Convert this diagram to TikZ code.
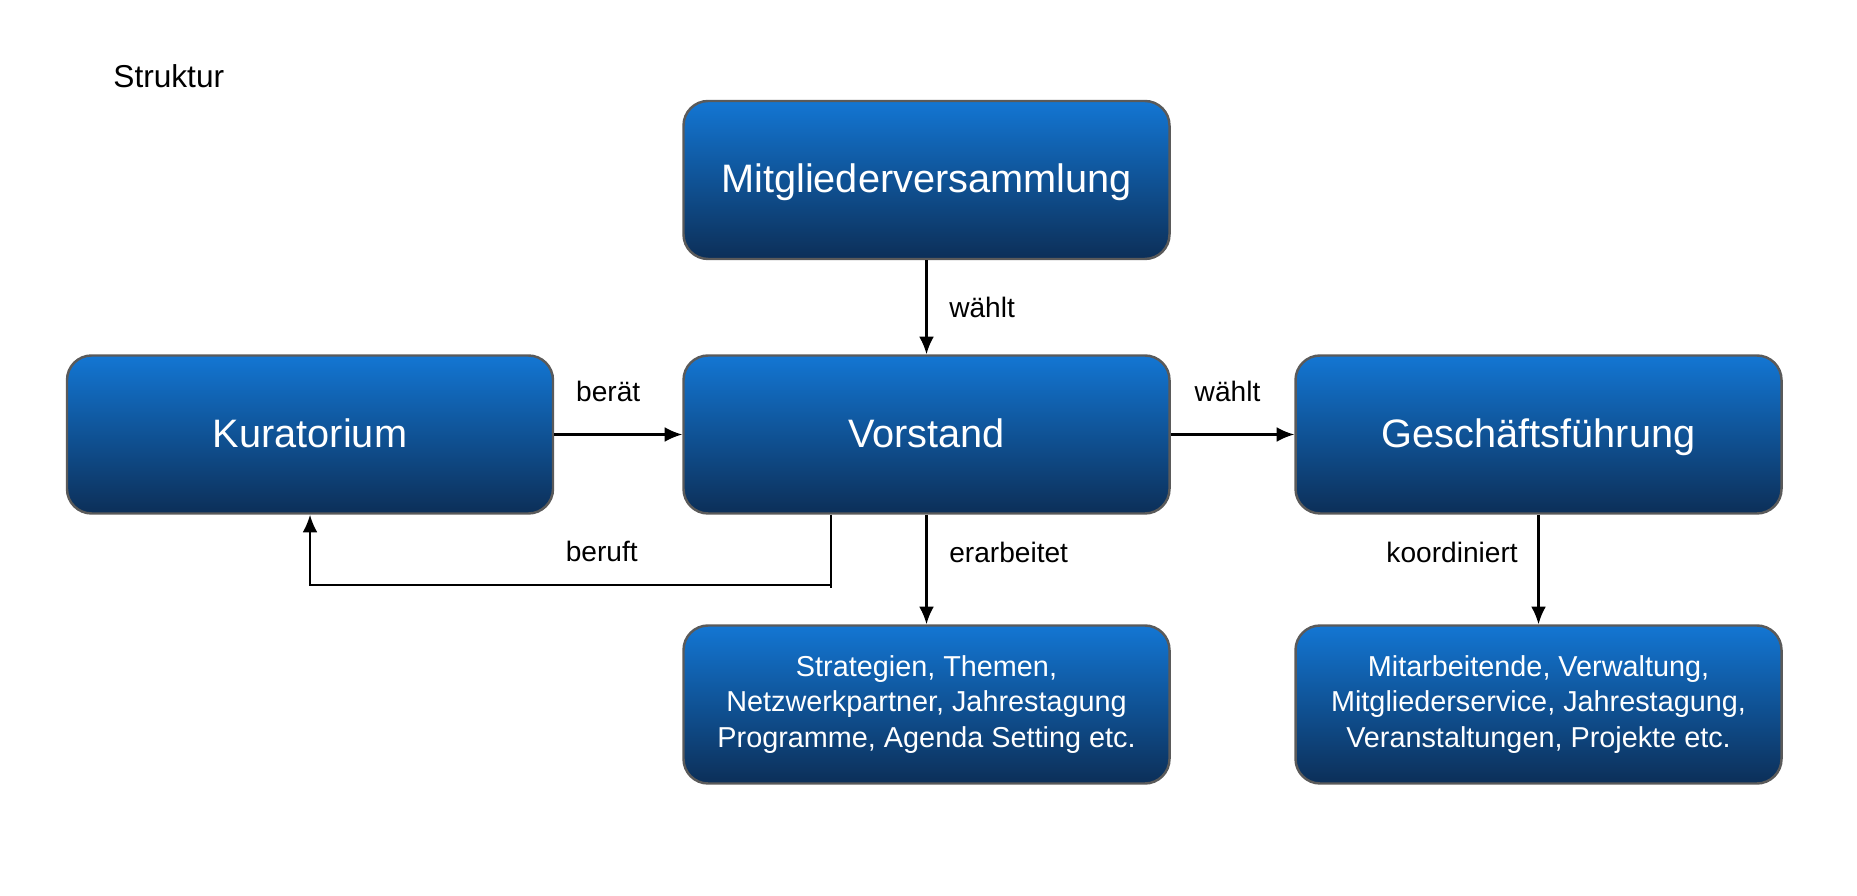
\documentclass[tikz,border=0pt]{standalone}
\usepackage{fontspec}
\setmainfont{Liberation Sans}
\usetikzlibrary{arrows.meta}
\definecolor{boxtop}{RGB}{19,118,211}
\definecolor{boxbot}{RGB}{12,47,88}
\definecolor{boxline}{RGB}{90,90,90}
\begin{document}
\begin{tikzpicture}[
  organ/.style={draw=boxline, line width=0.7pt, rounded corners=7pt, top color=boxtop, bottom color=boxbot,
    text=white, minimum width=4.86cm, minimum height=1.58cm, align=center},
  big/.style={organ, font=\fontsize{11.3}{13}\selectfont, text height=2.1ex, text depth=0.7ex},
  small/.style={organ, font=\fontsize{8.2}{10.1}\selectfont},
  rel/.style={font=\fontsize{8}{10}\selectfont},
  wire/.style={line width=0.6pt},
  link/.style={wire, -{Latex[length=5pt,width=4.2pt]}}
]
  \useasboundingbox (0,0) rectangle (18.57,-8.96);
  \node[anchor=west, font=\fontsize{9}{11}\selectfont] (title) at (1.01,-0.76) {Struktur};

  \node[big] (mv)  at (9.265,-1.80) {Mitgliederversammlung};
  \node[big] (kur) at (3.10,-4.345) {Kuratorium};
  \node[big] (vor) at (9.265,-4.345) {Vorstand};
  \node[big] (gf)  at (15.385,-4.345) {Geschäftsführung};
  \node[small] (str) at (9.265,-7.045) {Strategien, Themen,\\Netzwerkpartner, Jahrestagung\\Programme, Agenda Setting etc.};
  \node[small] (mit) at (15.385,-7.045) {Mitarbeitende, Verwaltung,\\Mitgliederservice, Jahrestagung,\\Veranstaltungen, Projekte etc.};

  \coordinate (knick) at ([xshift=-0.955cm,yshift=-0.70cm]vor.south);

  \path[link] (mv) edge node[rel,right,xshift=0.1cm] {wählt} (vor);
  \path[link] (kur) edge node[rel,above,yshift=0.2cm,xshift=-0.1cm] {berät} (vor);
  \path[link] (vor) edge node[rel,above,yshift=0.2cm,xshift=-0.05cm] {wählt} (gf);
  \path[link] (vor) edge node[rel,right,xshift=0.1cm,yshift=0.17cm] {erarbeitet} (str);
  \path[link] (gf) edge node[rel,left,xshift=-0.08cm,yshift=0.17cm] {koordiniert} (mit);
  \draw[wire] ([xshift=-0.955cm]vor.south) -- ([yshift=-0.03cm]knick);
  \draw[link] (knick) -| node[rel,pos=0.22,above,yshift=0.1cm] {beruft} (kur.south);
\end{tikzpicture}
\end{document}
